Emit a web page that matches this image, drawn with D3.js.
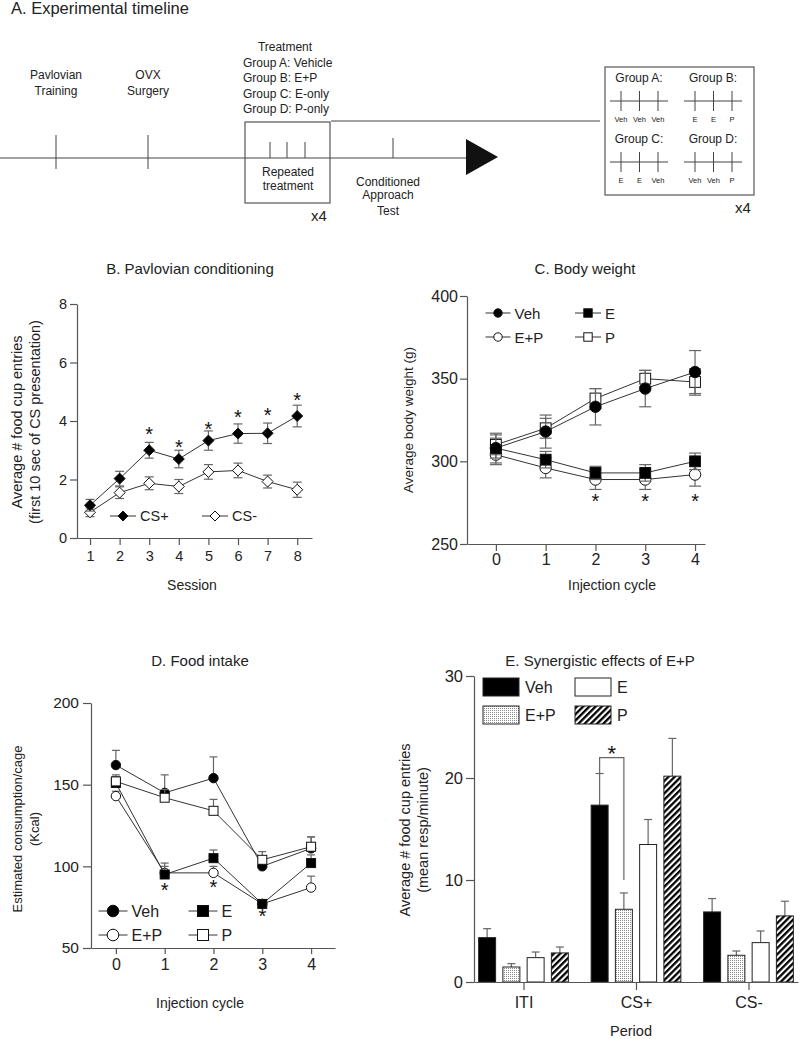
<!DOCTYPE html>
<html><head><meta charset="utf-8">
<script src="https://cdn.jsdelivr.net/npm/d3@7"></script>
<style>
body{margin:0;background:#fff;}
svg{display:block;font-family:"Liberation Sans",Arial,Helvetica,sans-serif;}
</style></head><body>
<svg id="c" width="800" height="1039"></svg>
<script>
// ---------- DATA ----------
// Panel A: timeline
const timelineEvents = [["Pavlovian","Training"],["OVX","Surgery"]];
const treatmentGroups = ["Group A: Vehicle","Group B: E+P","Group C: E-only","Group D: P-only"];
const schedA = ["Veh","Veh","Veh"];
const schedB = ["E","E","P"];
const schedC = ["E","E","Veh"];
const schedD = ["Veh","Veh","P"];
// Panel B: Pavlovian conditioning
const sessions = [1,2,3,4,5,6,7,8];
const csPlus = [1.12,2.03,3.0,2.7,3.33,3.57,3.58,4.17];
const csPlusErr = [0.2,0.25,0.27,0.3,0.33,0.33,0.35,0.37];
const csMinus = [0.88,1.55,1.87,1.76,2.26,2.31,1.93,1.65];
const csMinusErr = [0.15,0.2,0.22,0.24,0.25,0.25,0.22,0.26];
const sigSessions = [3,4,5,6,7,8];
const sigSessionLevel = [3.69,3.25,3.86,4.27,4.34,4.85];
// Panel C: body weight
const cycles = [0,1,2,3,4];
const bwVeh = [308,318,333,344,354], bwVehErr = [9,10,11,11,13];
const bwP = [310,320,338,350,348], bwPErr = [6,6,6,5,8];
const bwE = [308,301,293,293,300], bwEErr = [6,5,4,5,5];
const bwEP = [304,296,289,289,292], bwEPErr = [6,6,6,6,7];
const sigBW = [2,3,4], sigBWLevel = [278.5,278.5,278.5];
// Panel D: food intake
const fiVeh = [162,145,154,100,111], fiVehErr = [9,11,13,2,7];
const fiP = [152,142,134,104,112], fiPErr = [4,5,7,5,6];
const fiE = [151,95,105,77,102], fiEErr = [4,7,5,2,5];
const fiEP = [143,96,96,77,87], fiEPErr = [3,4,4,2,7];
const sigFI = [1,2,3], sigFILevel = [88,90,72];
// Panel E: synergistic effects
const periods = ["ITI","CS+","CS-"];
const groups = ["Veh","E+P","E","P"];
const synVeh = [4.35,17.34,6.87], synVehErr = [0.88,3.1,1.31];
const synEP = [1.47,7.13,2.62], synEPErr = [0.33,1.6,0.42];
const synE = [2.39,13.48,3.86], synEErr = [0.55,2.45,1.14];
const synP = [2.85,20.18,6.48], synPErr = [0.58,3.7,1.44];

// ---------- HELPERS ----------
const svg = d3.select("#c");
const FONT = '"Liberation Sans",Arial,Helvetica,sans-serif';
const AX = "#555", LN = "#333", ERR = "#666";

const defs = svg.append("defs");
const stip = defs.append("pattern").attr("id","stipple").attr("patternUnits","userSpaceOnUse").attr("width",2).attr("height",2);
stip.append("rect").attr("width",2).attr("height",2).attr("fill","#fff");
stip.append("rect").attr("width",1).attr("height",1).attr("fill","#8a8a8a");
const hat = defs.append("pattern").attr("id","hatch").attr("patternUnits","userSpaceOnUse").attr("width",4.4).attr("height",4.4).attr("patternTransform","rotate(45)");
hat.append("rect").attr("width",4.4).attr("height",4.4).attr("fill","#fff");
hat.append("rect").attr("width",2.3).attr("height",4.4).attr("fill","#000");

function txt(g, x, y, s, fs, anchor){
  return g.append("text").attr("x",x).attr("y",y).attr("font-size",fs)
    .attr("text-anchor",anchor||"middle").attr("dominant-baseline","central")
    .attr("fill","#222").text(s);
}
function styleAxis(g, fs){
  g.attr("font-family",FONT).attr("font-size",fs);
  g.selectAll(".domain").attr("stroke",AX).attr("stroke-width",1.2);
  g.selectAll(".tick line").attr("stroke",AX).attr("stroke-width",1.2);
  g.selectAll(".tick text").attr("fill","#222");
}
function marker(g, type, cx, cy, r, filled){
  const f = filled ? "#000" : "#fff";
  let m;
  if(type==="circle") m = g.append("circle").attr("cx",cx).attr("cy",cy).attr("r",r);
  else if(type==="square") m = g.append("rect").attr("x",cx-r).attr("y",cy-r).attr("width",2*r).attr("height",2*r);
  else m = g.append("path").attr("d",`M${cx},${cy-r}L${cx+r},${cy}L${cx},${cy+r}L${cx-r},${cy}Z`);
  m.attr("fill",f).attr("stroke","#111").attr("stroke-width",1);
}
function series(g, x, y, xs, vals, errs, type, filled, r, cap, both){
  const pts = xs.map((d,i)=>({x:d, v:vals[i], e:errs[i]}));
  const eg = g.append("g").attr("stroke",ERR).attr("stroke-width",1.2);
  pts.forEach(p=>{
    const lo = both ? p.v - p.e : p.v;
    eg.append("line").attr("x1",x(p.x)).attr("x2",x(p.x)).attr("y1",y(lo)).attr("y2",y(p.v+p.e));
    eg.append("line").attr("x1",x(p.x)-cap).attr("x2",x(p.x)+cap).attr("y1",y(p.v+p.e)).attr("y2",y(p.v+p.e));
    if(both) eg.append("line").attr("x1",x(p.x)-cap).attr("x2",x(p.x)+cap).attr("y1",y(lo)).attr("y2",y(lo));
  });
  g.append("path").datum(pts).attr("fill","none").attr("stroke",LN).attr("stroke-width",1)
    .attr("d", d3.line().x(p=>x(p.x)).y(p=>y(p.v)));
  pts.forEach(p=>marker(g,type,x(p.x),y(p.v),r,filled));
}
function star(g, cx, cy, fs){
  g.append("text").attr("x",cx).attr("y",cy + fs*0.55).attr("text-anchor","middle")
   .attr("font-size",fs).attr("fill","#111").text("*");
}
function legendItem(g, type, filled, cx, cy, r, half, label, fs){
  g.append("line").attr("x1",cx-half).attr("x2",cx+half).attr("y1",cy).attr("y2",cy).attr("stroke",LN);
  marker(g,type,cx,cy,r,filled);
  txt(g, cx+half+4, cy, label, fs, "start");
}
function rotLabel(g, x, y, s, fs){
  g.append("text").attr("transform",`translate(${x},${y}) rotate(-90)`).attr("text-anchor","middle")
   .attr("dominant-baseline","central").attr("font-size",fs).attr("fill","#222").text(s);
}

// ---------- PANEL A ----------
const A = svg.append("g").attr("font-family",FONT);
A.append("text").attr("x",11).attr("y",14).attr("font-size",16.5).attr("fill","#222").text("A. Experimental timeline");
const tl = d3.scaleLinear().domain([0,1]).range([0,466]);
const tY = 158;
A.append("line").attr("x1",tl(0)).attr("x2",tl(1)).attr("y1",tY).attr("y2",tY).attr("stroke","#444");
A.append("path").attr("d",`M466,139L498,157L466,175Z`).attr("fill","#111");
const evX = [56,148];
timelineEvents.forEach((lab,i)=>{
  A.append("line").attr("x1",evX[i]).attr("x2",evX[i]).attr("y1",135).attr("y2",169).attr("stroke","#444");
  txt(A, evX[i], 75, lab[0], 12);
  txt(A, evX[i], 91, lab[1], 12);
});
A.append("rect").attr("x",245).attr("y",122).attr("width",85).attr("height",81).attr("fill","none").attr("stroke","#555").attr("stroke-width",1.2);
[270,287,305].forEach(x=>A.append("line").attr("x1",x).attr("x2",x).attr("y1",142).attr("y2",tY).attr("stroke","#444"));
txt(A, 288, 172, "Repeated", 12);
txt(A, 288, 186, "treatment", 12);
A.append("text").attr("x",311).attr("y",221).attr("font-size",15).attr("fill","#222").text("x4");
txt(A, 285, 47, "Treatment", 12);
treatmentGroups.forEach((s,i)=>txt(A, 243, 63 + i*15.3, s, 12, "start"));
A.append("line").attr("x1",393).attr("x2",393).attr("y1",138).attr("y2",tY).attr("stroke","#444");
txt(A, 388, 182, "Conditioned", 12);
txt(A, 388, 195, "Approach", 12);
txt(A, 388, 211, "Test", 12);
A.append("line").attr("x1",331).attr("x2",600).attr("y1",121).attr("y2",121).attr("stroke","#444");
A.append("rect").attr("x",605).attr("y",67).attr("width",149).attr("height",128).attr("fill","none").attr("stroke","#555").attr("stroke-width",1.2);
A.append("text").attr("x",735).attr("y",213).attr("font-size",15).attr("fill","#222").text("x4");
function mini(x0, y0, title, sched){
  txt(A, x0+29, y0-23, title, 12);
  A.append("line").attr("x1",x0).attr("x2",x0+58).attr("y1",y0).attr("y2",y0).attr("stroke","#444");
  sched.forEach((s,i)=>{
    const x = x0 + 11 + i*18.5;
    A.append("line").attr("x1",x).attr("x2",x).attr("y1",y0-10).attr("y2",y0+10).attr("stroke","#444");
    txt(A, x, y0+18, s, 7.5);
  });
}
mini(610,101,"Group A:",schedA);
mini(684,101,"Group B:",schedB);
mini(610,162,"Group C:",schedC);
mini(684,162,"Group D:",schedD);

// ---------- PANEL B ----------
const B = svg.append("g").attr("font-family",FONT);
txt(B, 190, 268, "B. Pavlovian conditioning", 15);
const xB = d3.scaleLinear().domain([0.56,8.5]).range([77,312]);
const yB = d3.scaleLinear().domain([0,8]).range([538,304]);
styleAxis(B.append("g").attr("transform","translate(0,538)")
  .call(d3.axisBottom(xB).tickValues(sessions).tickFormat(d3.format("d")).tickSize(7).tickSizeOuter(0).tickPadding(6)),14.5);
styleAxis(B.append("g").attr("transform","translate(77,0)")
  .call(d3.axisLeft(yB).tickValues([0,2,4,6,8]).tickSize(7).tickSizeOuter(0).tickPadding(3)),14.5);
series(B, xB, yB, sessions, csMinus, csMinusErr, "diamond", false, 5.5, 4.5, true);
series(B, xB, yB, sessions, csPlus, csPlusErr, "diamond", true, 5.5, 4.5, true);
sigSessions.forEach((s,i)=>star(B, xB(s), yB(sigSessionLevel[i]), 20));
legendItem(B,"diamond",true,123,516,5,13,"CS+",14.5);
legendItem(B,"diamond",false,215,516,5,13,"CS-",14.5);
txt(B, 192, 585, "Session", 14);
rotLabel(B, 17, 422, "Average # food cup entries", 14.5);
rotLabel(B, 35, 422, "(first 10 sec of CS presentation)", 14.5);

// ---------- PANEL C ----------
const C = svg.append("g").attr("font-family",FONT);
txt(C, 585, 268, "C. Body weight", 15);
const xC = d3.scaleLinear().domain([-0.58,4.2]).range([467,705]);
const yC = d3.scaleLinear().domain([250,400]).range([544,296]);
styleAxis(C.append("g").attr("transform","translate(0,544)")
  .call(d3.axisBottom(xC).tickValues(cycles).tickFormat(d3.format("d")).tickSize(7).tickSizeOuter(0).tickPadding(3)),16);
styleAxis(C.append("g").attr("transform","translate(467,0)")
  .call(d3.axisLeft(yC).tickValues([250,300,350,400]).tickSize(7).tickSizeOuter(0).tickPadding(2)),16);
series(C, xC, yC, cycles, bwEP, bwEPErr, "circle", false, 5.7, 6, true);
series(C, xC, yC, cycles, bwE, bwEErr, "square", true, 5.4, 6, true);
series(C, xC, yC, cycles, bwP, bwPErr, "square", false, 5.4, 6, true);
series(C, xC, yC, cycles, bwVeh, bwVehErr, "circle", true, 5.7, 6, true);
sigBW.forEach((c,i)=>star(C, xC(c), yC(sigBWLevel[i]), 20));
legendItem(C,"circle",true,498,313,4.2,12.5,"Veh",15);
legendItem(C,"square",true,588,313,4.2,13,"E",15);
legendItem(C,"circle",false,498,337,4.2,12.5,"E+P",15);
legendItem(C,"square",false,588,337,4.2,13,"P",15);
txt(C, 612, 585, "Injection cycle", 14);
rotLabel(C, 408, 420, "Average body weight (g)", 13.5);

// ---------- PANEL D ----------
const D = svg.append("g").attr("font-family",FONT);
txt(D, 200, 660, "D. Food intake", 15);
const xD = d3.scaleLinear().domain([-0.51,4.49]).range([91,335]);
const yD = d3.scaleLinear().domain([50,200]).range([948,703]);
styleAxis(D.append("g").attr("transform","translate(0,948)")
  .call(d3.axisBottom(xD).tickValues(cycles).tickFormat(d3.format("d")).tickSize(6).tickSizeOuter(0).tickPadding(5)),16);
styleAxis(D.append("g").attr("transform","translate(91,0)")
  .call(d3.axisLeft(yD).tickValues([50,100,150,200]).tickSize(8).tickSizeOuter(0).tickPadding(4)),15.5);
series(D, xD, yD, cycles, fiEP, fiEPErr, "circle", false, 4.7, 4, false);
series(D, xD, yD, cycles, fiVeh, fiVehErr, "circle", true, 4.7, 4, false);
series(D, xD, yD, cycles, fiE, fiEErr, "square", true, 4.5, 4, false);
series(D, xD, yD, cycles, fiP, fiPErr, "square", false, 4.5, 4, false);
sigFI.forEach((c,i)=>star(D, xD(c), yD(sigFILevel[i]), 20));
legendItem(D,"circle",true,113,911,5.8,14.5,"Veh",16);
legendItem(D,"square",true,203,911,5.5,14.5,"E",16);
legendItem(D,"circle",false,113,935,5.8,14.5,"E+P",16);
legendItem(D,"square",false,203,935,5.5,14.5,"P",16);
txt(D, 200, 1003, "Injection cycle", 14);
rotLabel(D, 17, 829, "Estimated consumption/cage", 13);
rotLabel(D, 34, 829, "(Kcal)", 13);

// ---------- PANEL E ----------
const E = svg.append("g").attr("font-family",FONT);
txt(E, 600, 660, "E. Synergistic effects of E+P", 15);
const xE = d3.scalePoint().domain(periods).range([474,798]).padding(0.44);
const xG = d3.scaleBand().domain(groups).range([-48.5,48.5]).paddingInner(0.3).paddingOuter(0.15);
const yE = d3.scaleLinear().domain([0,30]).range([982,676]);
const fills = {"Veh":"#000","E+P":"url(#stipple)","E":"#fff","P":"url(#hatch)"};
const synVals = {"Veh":synVeh,"E+P":synEP,"E":synE,"P":synP};
const synErrs = {"Veh":synVehErr,"E+P":synEPErr,"E":synEErr,"P":synPErr};
const bw = xG.bandwidth();
groups.forEach(gr=>{
  periods.forEach((p,i)=>{
    const x0 = xE(p) + xG(gr);
    const v = synVals[gr][i], e = synErrs[gr][i];
    const cx = x0 + bw/2;
    E.append("line").attr("x1",cx).attr("x2",cx).attr("y1",yE(v)).attr("y2",yE(v+e)).attr("stroke",ERR).attr("stroke-width",1.2);
    E.append("line").attr("x1",cx-4).attr("x2",cx+4).attr("y1",yE(v+e)).attr("y2",yE(v+e)).attr("stroke",ERR).attr("stroke-width",1.2);
    E.append("rect").attr("x",x0).attr("y",yE(v)).attr("width",bw).attr("height",yE(0)-yE(v))
      .attr("fill",fills[gr]).attr("stroke","#222").attr("stroke-width",1);
  });
});
styleAxis(E.append("g").attr("transform","translate(0,982)")
  .call(d3.axisBottom(xE).tickSize(8).tickSizeOuter(0).tickPadding(7)),16);
styleAxis(E.append("g").attr("transform","translate(474,0)")
  .call(d3.axisLeft(yE).tickValues([0,10,20,30]).tickSize(8).tickSizeOuter(0).tickPadding(3)),16.5);
const bxL = xE("CS+") + xG("Veh") + bw/2, bxR = xE("CS+") + xG("E+P") + bw/2;
const bTop = 22;
E.append("path").attr("d",`M${bxL},${yE(synVeh[1]+synVehErr[1])}V${yE(bTop)}H${bxR}V${yE(10)}`)
  .attr("fill","none").attr("stroke",ERR).attr("stroke-width",1.2);
star(E, (bxL+bxR)/2, yE(bTop)-9, 22);
const legE = [["Veh",483,678],["E",575,678],["E+P",483,706],["P",575,706]];
legE.forEach(([k,x,y])=>{
  E.append("rect").attr("x",x).attr("y",y).attr("width",36).attr("height",18).attr("fill",fills[k]).attr("stroke","#222");
  txt(E, x+42, y+9, k, 16, "start");
});
txt(E, 631, 1031, "Period", 14.5);
rotLabel(E, 405, 830, "Average # food cup entries", 14.5);
rotLabel(E, 423, 830, "(mean resp/minute)", 14.5);
</script></body></html>
